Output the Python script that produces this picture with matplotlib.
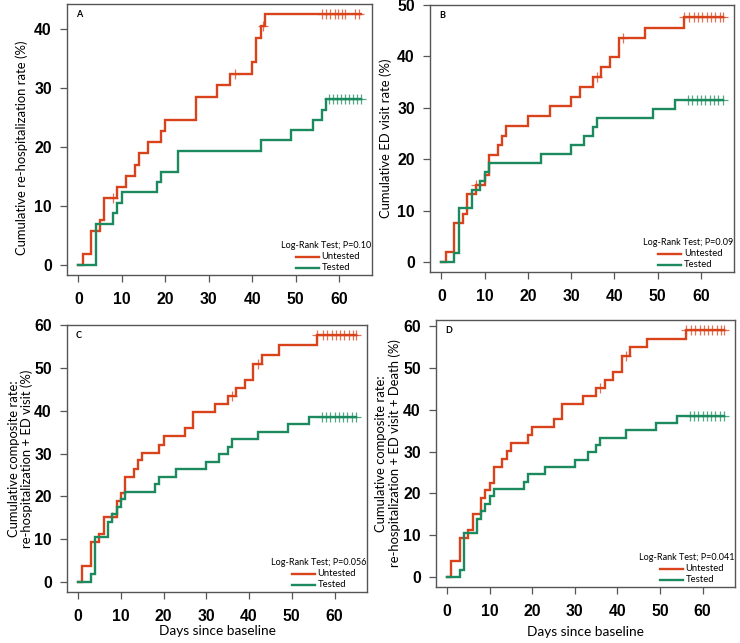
import matplotlib
matplotlib.use('Agg')
import matplotlib.pyplot as plt
import numpy as np

# 数据 (step times in days, cumulative rate %)
a_unt_t = [0, 1, 3, 5, 6, 9, 11, 13, 14, 16, 19, 20, 27, 32, 35, 40, 41, 42, 43]
a_unt_y = [0, 1.9, 5.7, 7.6, 11.4, 13.2, 15.1, 17.0, 18.9, 20.8, 22.7, 24.6, 28.5, 30.5, 32.4, 34.4, 38.4, 40.4, 42.5]
a_unt_c = [8, 36, 42.4, 56, 57, 58, 59, 59.7, 60.6, 61.5, 63.7, 64.6]
a_tst_t = [0, 4, 8, 9, 10, 18, 19, 23, 42, 49, 54, 56, 57]
a_tst_y = [0, 7.0, 8.8, 10.5, 12.3, 14.0, 15.8, 19.3, 21.1, 22.8, 24.6, 26.3, 28.1]
a_tst_c = [57.7, 58.6, 59.5, 60.5, 61.4, 62.3, 63.2, 64.1, 65]

b_unt_t = [0, 1, 3, 5, 6, 8, 10, 11, 13, 14, 15, 20, 25, 30, 32, 35, 37, 39, 41, 47, 56]
b_unt_y = [0, 1.9, 7.6, 9.4, 13.2, 15.1, 17.0, 20.8, 22.7, 24.6, 26.5, 28.4, 30.3, 32.2, 34.1, 36.0, 37.9, 39.8, 43.6, 45.5, 47.7]
b_unt_c = [8, 36, 42, 56, 57.3, 58.3, 59.3, 60.3, 61.3, 62.3, 63.3, 64.3, 65]
b_tst_t = [0, 3, 4, 7, 9, 10, 11, 23, 30, 33, 35, 36, 49, 54]
b_tst_y = [0, 1.8, 10.5, 14.0, 15.8, 17.5, 19.3, 21.1, 22.8, 24.6, 26.3, 28.1, 29.8, 31.6]
b_tst_c = [57, 58, 59, 60, 61, 62, 63, 64, 65]

c_unt_t = [0, 1, 3, 5, 6, 9, 10, 11, 13, 14, 15, 19, 20, 25, 27, 32, 35, 37, 39, 41, 43, 47, 56]
c_unt_y = [0, 3.8, 9.4, 11.3, 15.1, 18.9, 20.8, 24.6, 26.5, 28.4, 30.2, 32.1, 34.0, 35.9, 39.7, 41.6, 43.4, 45.3, 47.2, 51.0, 52.9, 55.3, 57.6]
c_unt_c = [8, 36, 42, 56, 57.3, 58.3, 59.3, 60.3, 61.3, 62.3, 63.3, 64.3, 65]
c_tst_t = [0, 3, 4, 7, 8, 9, 10, 11, 18, 19, 23, 30, 33, 35, 36, 42, 49, 54]
c_tst_y = [0, 1.8, 10.5, 14.0, 15.8, 17.5, 19.3, 21.1, 22.8, 24.6, 26.3, 28.1, 29.8, 31.6, 33.3, 35.1, 36.8, 38.6]
c_tst_c = [57, 58, 59, 60, 61, 62, 63, 64, 65]

d_unt_t = [0, 1, 3, 5, 6, 8, 9, 10, 11, 13, 14, 15, 19, 20, 25, 27, 32, 35, 37, 39, 41, 43, 47, 56]
d_unt_y = [0, 3.8, 9.4, 11.3, 15.1, 18.9, 20.8, 22.6, 26.4, 28.3, 30.2, 32.1, 34.0, 35.8, 37.7, 41.5, 43.4, 45.3, 47.2, 49.1, 52.8, 54.9, 57.0, 59.1]
d_unt_c = [36, 42, 56, 57.3, 58.3, 59.3, 60.3, 61.3, 62.3, 63.3, 64.3, 65]
d_tst_t = c_tst_t
d_tst_y = c_tst_y
d_tst_c = [57, 58, 59, 60, 61, 62, 63, 64, 65]

panels = ['A', 'B', 'C', 'D']
ylabels = ['Cumulative re-hospitalization rate (%)',
           'Cumulative ED visit rate (%)',
           'Cumulative composite rate:\nre-hospitalization + ED visit (%)',
           'Cumulative composite rate:\nre-hospitalization + ED visit + Death (%)']
pvalues = ['Log-Rank Test; P=0.10', 'Log-Rank Test; P=0.09',
           'Log-Rank Test; P=0.056', 'Log-Rank Test; P=0.041']
yticks_max = [40, 50, 60, 60]
groups = ['Untested', 'Tested']
end_day = 65

series = [
    ((a_unt_t, a_unt_y, a_unt_c), (a_tst_t, a_tst_y, a_tst_c)),
    ((b_unt_t, b_unt_y, b_unt_c), (b_tst_t, b_tst_y, b_tst_c)),
    ((c_unt_t, c_unt_y, c_unt_c), (c_tst_t, c_tst_y, c_tst_c)),
    ((d_unt_t, d_unt_y, d_unt_c), (d_tst_t, d_tst_y, d_tst_c)),
]

red = '#D8431B'
green = '#1B8A5E'
colors = [red, green]
label_font = 'Lato'
tick_font = 'Liberation Sans'

fig = plt.figure(figsize=(7.4, 6.43), dpi=100)
# axes positions [left, bottom, width, height] in figure fraction
positions = [
    [67/740, 1 - 275/643, 305/740, 271/643],
    [430/740, 1 - 272/643, 304/740, 267/643],
    [67/740, 1 - 592/643, 300/740, 267/643],
    [436/740, 1 - 587/643, 299/740, 267/643],
]
# y label: right edge of the (rotated) text block, axes fraction
ylab_x = [-0.128, -0.126, -0.112, -0.118]
ylab_y = [0.47, 0.5, 0.5, 0.5]
xlab_y = [None, None, -0.123, -0.145]

for i, pos in enumerate(positions):
    ax = fig.add_axes(pos)
    ymax = 0
    for (t, y, cens), col in zip(series[i], colors):
        t_full = list(t) + [end_day]
        y_full = list(y) + [y[-1]]
        ax.step(t_full, y_full, where='post', color=col, lw=1.7, solid_joinstyle='miter')
        # censor marks placed on the step curve
        idx = np.searchsorted(t, cens, side='right') - 1
        cy = np.array(y)[idx]
        ax.plot(cens, cy, linestyle='none', marker='+', color=col, ms=7, mew=0.9, alpha=0.75)
        ymax = max(ymax, max(y))

    # R-like 4% padding
    ax.set_xlim(-0.04 * end_day, end_day * 1.04)
    ax.set_ylim(-0.04 * ymax, ymax * 1.04)
    ax.set_xticks(np.arange(0, 61, 10))
    ax.set_yticks(np.arange(0, yticks_max[i] + 1, 10))
    for lab in ax.get_xticklabels() + ax.get_yticklabels():
        lab.set_fontfamily(tick_font)
        lab.set_fontweight('bold')
        lab.set_fontsize(11.3)
    ax.tick_params(axis='both', direction='out', length=5, width=0.9, color='#555555')
    ax.tick_params(axis='x', pad=7)
    ax.tick_params(axis='y', pad=6)
    for sp in ax.spines.values():
        sp.set_color('#555555')
        sp.set_linewidth(1.0)

    ax.set_ylabel(ylabels[i], fontfamily=label_font, fontsize=9.4, linespacing=1.1)
    ax.yaxis.set_label_coords(ylab_x[i], ylab_y[i])
    if i >= 2:
        ax.set_xlabel('Days since baseline', fontfamily=label_font, fontsize=9.8)
        ax.xaxis.set_label_coords(0.5, xlab_y[i])

    # panel letter
    ax.text(0.03, 0.96, panels[i], transform=ax.transAxes, fontfamily=label_font,
            fontweight='bold', fontsize=6.5, ha='left', va='center')

    # legend (R-style, no frame)
    ax.text(0.998, 0.11, pvalues[i], transform=ax.transAxes, fontfamily=label_font,
            fontsize=6.5, ha='right', va='center')
    for k, (g, col) in enumerate(zip(groups, colors)):
        yy = 0.068 - k * 0.041
        ax.plot([0.75, 0.825], [yy, yy], transform=ax.transAxes, color=col, lw=1.7)
        ax.text(0.835, yy, g, transform=ax.transAxes, fontfamily=label_font,
                fontsize=6.8, ha='left', va='center')

plt.savefig('out.png', dpi=100)
